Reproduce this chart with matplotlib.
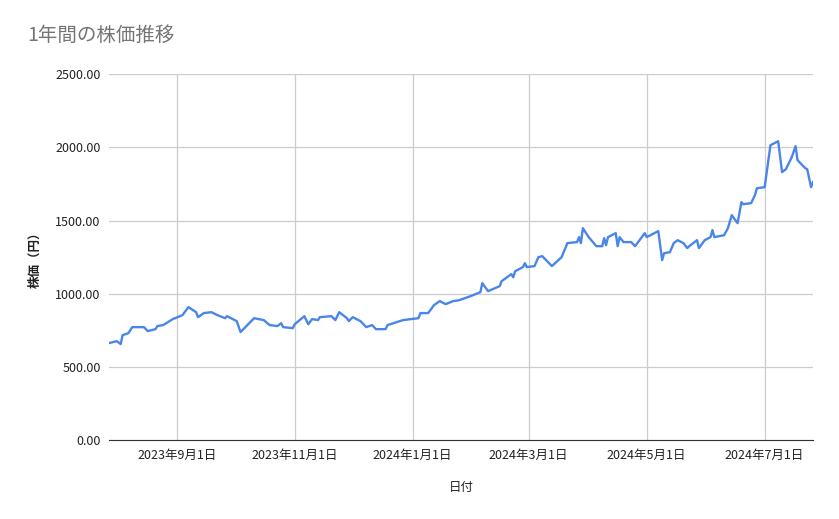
import matplotlib
matplotlib.use("Agg")
import matplotlib.pyplot as plt
import pandas as pd
from matplotlib.ticker import FuncFormatter

plt.rcParams['font.family'] = ['Noto Sans CJK JP', 'DejaVu Sans']

dates = ["2023-07-28","2023-08-01","2023-08-03","2023-08-04","2023-08-07","2023-08-09","2023-08-15","2023-08-17",
 "2023-08-21","2023-08-22","2023-08-25","2023-08-30","2023-09-04","2023-09-07","2023-09-11","2023-09-12","2023-09-15",
 "2023-09-19","2023-09-22","2023-09-26","2023-09-27","2023-10-02","2023-10-04","2023-10-11","2023-10-16","2023-10-19",
 "2023-10-23","2023-10-25","2023-10-26","2023-10-31","2023-11-01","2023-11-06","2023-11-08","2023-11-10","2023-11-13",
 "2023-11-14","2023-11-20","2023-11-22","2023-11-24","2023-11-28","2023-11-29","2023-12-01","2023-12-05","2023-12-08",
 "2023-12-11","2023-12-13","2023-12-18","2023-12-19","2023-12-22","2023-12-27","2024-01-04","2024-01-05","2024-01-09",
 "2024-01-12","2024-01-15","2024-01-18","2024-01-22","2024-01-25","2024-01-31","2024-02-05","2024-02-06","2024-02-09",
 "2024-02-15","2024-02-16","2024-02-21","2024-02-22","2024-02-23","2024-02-27","2024-02-28","2024-02-29","2024-03-04",
 "2024-03-06","2024-03-08","2024-03-13","2024-03-18","2024-03-21","2024-03-26","2024-03-27","2024-03-28","2024-03-29",
 "2024-04-01","2024-04-05","2024-04-08","2024-04-09","2024-04-10","2024-04-11","2024-04-15","2024-04-16","2024-04-17",
 "2024-04-19","2024-04-23","2024-04-25","2024-04-30","2024-05-01","2024-05-07","2024-05-09","2024-05-10","2024-05-13",
 "2024-05-15","2024-05-17","2024-05-20","2024-05-22","2024-05-23","2024-05-27","2024-05-28","2024-05-31","2024-06-03",
 "2024-06-04","2024-06-05","2024-06-10","2024-06-12","2024-06-14","2024-06-17","2024-06-19","2024-06-20","2024-06-24",
 "2024-06-26","2024-06-27","2024-07-01","2024-07-04","2024-07-08","2024-07-10","2024-07-12","2024-07-15","2024-07-17",
 "2024-07-18","2024-07-22","2024-07-23","2024-07-25","2024-07-26"]
prices = [663,676,656,717,731,772,772,745,
 758,779,786,827,854,909,874,840,868,
 874,854,833,847,813,738,833,820,786,
 779,799,772,765,792,847,792,827,820,
 840,847,820,874,833,813,840,813,772,
 786,758,758,786,799,820,833,868,868,
 922,950,929,950,956,984,1011,1072,1018,
 1052,1086,1134,1113,1154,1182,1209,1182,1189,
 1250,1257,1189,1250,1346,1353,1387,1346,1448,
 1387,1325,1325,1380,1332,1387,1414,1325,1387,
 1353,1353,1325,1414,1387,1428,1230,1277,1284,
 1346,1366,1346,1312,1325,1366,1312,1366,1387,
 1435,1387,1400,1448,1537,1482,1626,1612,1619,
 1674,1721,1728,2015,2042,1831,1851,1933,2008,
 1913,1858,1851,1728,1762]
tick_dates = ["2023-09-01","2023-11-01","2024-01-01","2024-03-01","2024-05-01","2024-07-01"]
tick_labels = ["2023年9月1日","2023年11月1日","2024年1月1日","2024年3月1日","2024年5月1日","2024年7月1日"]

fig = plt.figure(figsize=(8.39, 5.19), dpi=100)
ax = fig.add_axes([0.130, 0.152, 0.839, 0.705])
x = pd.to_datetime(dates)
ax.plot(x, prices, color="#4a86e8", lw=1.7)
ax.set_xlim(pd.Timestamp("2023-07-28"), pd.Timestamp("2024-07-26"))
ax.set_ylim(0, 2500)
ax.set_yticks([0, 500, 1000, 1500, 2000, 2500])
ax.yaxis.set_major_formatter(FuncFormatter(lambda v, p: f"{v:.2f}"))
ax.set_xticks(pd.to_datetime(tick_dates))
ax.set_xticklabels(tick_labels)
ax.grid(True, color="#cccccc", lw=0.9)
ax.set_axisbelow(True)
for s in ax.spines.values():
    s.set_visible(False)
ax.spines['bottom'].set_visible(True)
ax.spines['bottom'].set_color("#333333")
ax.tick_params(length=0, labelsize=9, colors="#222222", pad=6)
ax.set_xlabel("日付", fontsize=9, labelpad=14, color="#222222")
ax.set_ylabel("株価（円）", fontsize=9, fontweight="bold", labelpad=10, color="#222222")
fig.text(0.033, 0.922, "1年間の株価推移", fontsize=14, color="#757575")
fig.savefig("out.png", dpi=100, facecolor="white")
